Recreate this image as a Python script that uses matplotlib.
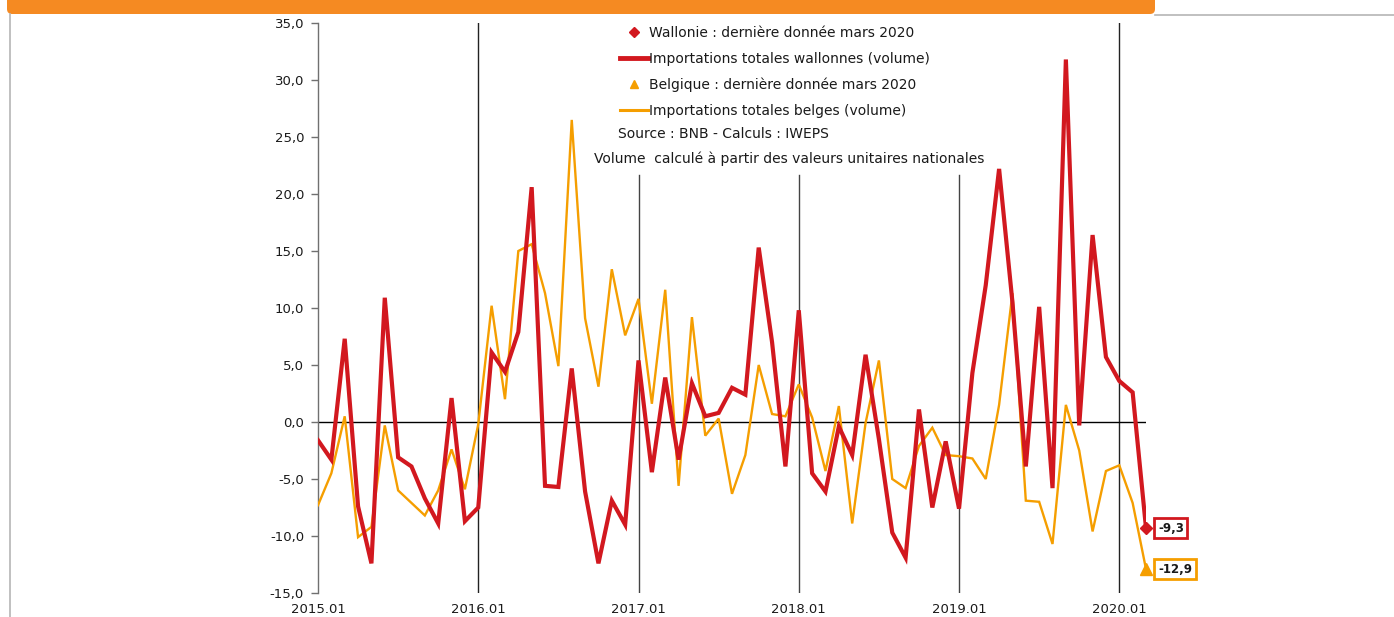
import numpy as np
import matplotlib
matplotlib.use("Agg")
import matplotlib.pyplot as plt
from matplotlib.lines import Line2D
from matplotlib.patches import FancyBboxPatch
from matplotlib.transforms import IdentityTransform
from matplotlib.ticker import FuncFormatter

# ---------------- data ----------------
years = [2015, 2016, 2017, 2018, 2019, 2020]
months = [f"{y}.{m:02d}" for y in years for m in range(1, 13)][:63]  # 2015.01 .. 2020.03

wallonie = [-1.6, -3.3, 7.3, -7.4, -12.4, 10.9, -3.1, -3.9, -6.7, -8.9, 2.1, -8.7,
            -7.5, 6.1, 4.4, 7.9, 20.6, -5.6, -5.7, 4.7, -6.1, -12.4, -6.9, -9.0,
            5.4, -4.4, 3.9, -3.3, 3.4, 0.5, 0.8, 3.0, 2.4, 15.3, 7.0, -3.9,
            9.8, -4.5, -6.1, -0.4, -2.9, 5.9, -1.5, -9.7, -11.9, 1.1, -7.5, -1.7,
            -7.6, 4.3, 12.0, 22.2, 10.5, -3.9, 10.1, -5.8, 31.8, -0.3, 16.4, 5.7,
            3.6, 2.6, -9.3]

belgique = [-7.3, -4.5, 0.5, -10.1, -9.2, -0.3, -6.0, -7.1, -8.2, -6.0, -2.4, -5.9,
            -0.2, 10.2, 2.0, 15.0, 15.6, 11.3, 4.9, 26.5, 9.1, 3.1, 13.4, 7.6,
            10.8, 1.6, 11.6, -5.6, 9.2, -1.2, 0.3, -6.3, -2.9, 5.0, 0.7, 0.5,
            3.3, 0.4, -4.3, 1.4, -8.9, -0.1, 5.4, -5.0, -5.8, -2.1, -0.5, -2.9,
            -3.0, -3.2, -5.0, 1.5, 11.3, -6.9, -7.0, -10.7, 1.5, -2.5, -9.6, -4.3,
            -3.8, -7.1, -12.9]

xtick_labels = ["2015.01", "2016.01", "2017.01", "2018.01", "2019.01", "2020.01"]
legend_labels = ["Wallonie : dernière donnée mars 2020",
                 "Importations totales wallonnes (volume)",
                 "Belgique : dernière donnée mars 2020",
                 "Importations totales belges (volume)"]
note_source = "Source : BNB - Calculs : IWEPS"
note_volume = "Volume  calculé à partir des valeurs unitaires nationales"

# ---------------- style ----------------
RED = "#D2181F"
ORANGE = "#F59E00"
BAR = "#F58A22"
TXT = "#1a1a1a"
plt.rcParams["font.family"] = ["DejaVu Sans"]

W, H = 1394, 617
fig = plt.figure(figsize=(W / 100, H / 100), dpi=100)
fig.patch.set_facecolor("white")

# frame decorations
fig.add_artist(FancyBboxPatch((7, H - 14), 1148, 40, boxstyle="round,pad=0,rounding_size=5",
                              transform=IdentityTransform(), fc=BAR, ec="none"))
fig.add_artist(Line2D([1155, W], [H - 14.5, H - 14.5], transform=IdentityTransform(),
                      color="#b5b5b5", lw=1.2))
fig.add_artist(Line2D([9.5, 9.5], [0, H - 14], transform=IdentityTransform(),
                      color="#b5b5b5", lw=1.2))

ax = fig.add_axes([318 / W, 1 - 593 / H, (1146 - 318) / W, (593 - 23) / H])
x = np.arange(len(months))

ax.set_xlim(0, len(months) - 1)
ax.set_ylim(-15, 35)

# year separators
tick_pos = [months.index(lbl) for lbl in xtick_labels]
for p in tick_pos[1:]:
    full = p in (tick_pos[1], tick_pos[-1])
    ax.axvline(p, ymin=0, ymax=1 if full else 0.734, color="#222222" if full else "#444444",
               lw=1.0, zorder=1)
ax.axhline(0, color="black", lw=1.0, zorder=2)

ax.plot(x, belgique, color=ORANGE, lw=1.7, zorder=3, solid_joinstyle="miter")
ax.plot(x, wallonie, color=RED, lw=3.0, zorder=4, solid_joinstyle="miter")
ax.plot(x[-1], wallonie[-1], marker="D", color=RED, ms=6, ls="none", clip_on=False, zorder=5)
ax.plot(x[-1], belgique[-1], marker="^", color=ORANGE, ms=9, ls="none", clip_on=False, zorder=5)

def fmt_label(v):
    return f"{v:.1f}".replace(".", ",")

ax.annotate(fmt_label(wallonie[-1]), (x[-1], wallonie[-1]), xytext=(12, 0),
            textcoords="offset pixels", ha="left", va="center", fontsize=8.5,
            fontweight="bold", color=TXT, annotation_clip=False,
            bbox=dict(boxstyle="square,pad=0.3", fc="white", ec=RED, lw=2))
ax.annotate(fmt_label(belgique[-1]), (x[-1], belgique[-1]), xytext=(12, 0),
            textcoords="offset pixels", ha="left", va="center", fontsize=8.5,
            fontweight="bold", color=TXT, annotation_clip=False,
            bbox=dict(boxstyle="square,pad=0.3", fc="white", ec=ORANGE, lw=2))

# axes styling
for s in ("top", "right", "bottom"):
    ax.spines[s].set_visible(False)
ax.spines["left"].set_color("#707070")
ax.spines["left"].set_linewidth(1.0)
ax.set_yticks(np.arange(-15, 36, 5))
ax.yaxis.set_major_formatter(FuncFormatter(lambda v, _: fmt_label(v)))
ax.tick_params(axis="y", length=5, width=1, color="#707070", pad=5, labelsize=9.5, labelcolor=TXT)
ax.set_xticks(tick_pos)
ax.set_xticklabels(xtick_labels)
ax.tick_params(axis="x", length=0, pad=7, labelsize=9.5, labelcolor=TXT)
ax.patch.set_alpha(0)

# legend
handles = [Line2D([], [], ls="none", marker="D", color=RED, ms=5),
           Line2D([], [], color=RED, lw=3.5),
           Line2D([], [], ls="none", marker="^", color=ORANGE, ms=6),
           Line2D([], [], color=ORANGE, lw=2.2)]
leg = ax.legend(handles, legend_labels, loc="upper left",
                bbox_to_anchor=(620 / W, 1 - 26 / H), bbox_transform=fig.transFigure,
                frameon=False, handlelength=2.0, handletextpad=0.1, labelspacing=0.84,
                fontsize=10, borderpad=0, borderaxespad=0)
for t in leg.get_texts():
    t.set_color(TXT)

fig.text(723 / W, 1 - 134 / H, note_source, ha="center", va="center", fontsize=10, color=TXT)
fig.text(789 / W, 1 - 159 / H, note_volume, ha="center", va="center", fontsize=10, color=TXT)

fig.savefig("out.png", dpi=100)
